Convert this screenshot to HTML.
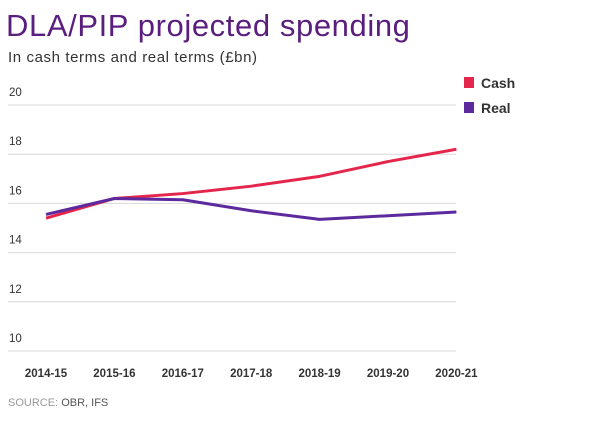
<!DOCTYPE html>
<html><head><meta charset="utf-8"><style>
body{margin:0;background:#fff;width:603px;height:419px;overflow:hidden;font-family:"Liberation Sans",sans-serif}
</style></head><body>
<svg width="603" height="419" id="c">
<text x="6" y="36" font-size="31" fill="#5a1e7f" letter-spacing="0.6">DLA/PIP projected spending</text>
<text x="8" y="62" font-size="15" fill="#333" letter-spacing="0.6">In cash terms and real terms (£bn)</text>
<rect x="464" y="77" width="10" height="11" fill="#e5264c"/>
<text x="481" y="88" font-size="14" font-weight="bold" fill="#333">Cash</text>
<rect x="464" y="102" width="10" height="11" fill="#5c2a9d"/>
<text x="481" y="113" font-size="14" font-weight="bold" fill="#333">Real</text>
<text x="8" y="406" font-size="11" fill="#999">SOURCE: <tspan fill="#555">OBR, IFS</tspan></text>
<g id="g"></g>
</svg>
<script>
const categories=["2014-15","2015-16","2016-17","2017-18","2018-19","2019-20","2020-21"];
const cashValues=[15.4,16.2,16.4,16.7,17.1,17.7,18.2];
const realValues=[15.55,16.2,16.15,15.7,15.35,15.5,15.65];
const yTicks=[10,12,14,16,18,20];
const NS="http://www.w3.org/2000/svg";
const g=document.getElementById('g');
function xs(i){return 46+i*68.4;}
function ys(v){return 351-(v-10)*24.6;}
function mk(t,a){const e=document.createElementNS(NS,t);for(const k in a)e.setAttribute(k,a[k]);g.appendChild(e);return e;}
yTicks.forEach(v=>{
 const l=mk('line',{x1:8,x2:456,y1:ys(v),y2:ys(v),stroke:'#d8d8d8','stroke-width':1});
 
 
 const t=mk('text',{x:9,y:ys(v)-9,'font-size':11.5,fill:'#333'});t.textContent=v;
 
 
});
categories.forEach((c,i)=>{
 const t=mk('text',{x:xs(i),y:377,'font-size':11.5,'font-weight':'bold',fill:'#333','text-anchor':'middle'});t.textContent=c;
 
 
});
function line(vals,col,name){
 const p=mk('polyline',{points:vals.map((v,i)=>xs(i)+','+ys(v)).join(' '),fill:'none',stroke:col,'stroke-width':3,'stroke-linejoin':'round'});
 
 
}
line(cashValues,'#e5264c','cash-line');
line(realValues,'#5c2a9d','real-line');
</script>
</body></html>
